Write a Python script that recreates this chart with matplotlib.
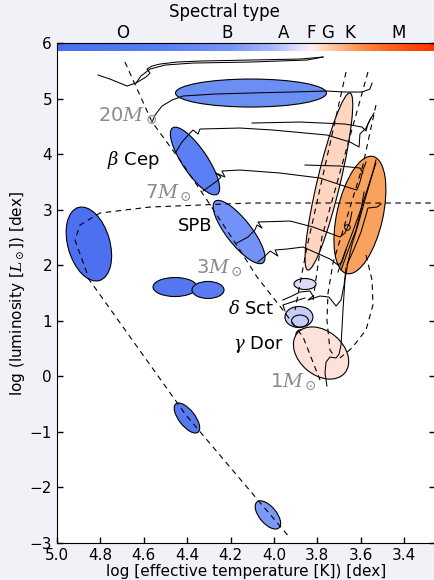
import numpy as np
import matplotlib
matplotlib.use('Agg')
import matplotlib.pyplot as plt
from matplotlib.patches import Ellipse
from matplotlib.transforms import ScaledTranslation
from matplotlib.colors import LinearSegmentedColormap, Normalize

plt.rcParams['font.family'] = ['DejaVu Sans']
plt.rcParams['mathtext.fontset'] = 'dejavuserif'

# ---------------- data (log Teff, log L) ----------------
# spectral classes
spec_bounds = [4.518, 4.0, 3.875, 3.778, 3.716, 3.568, 3.301]
spec_label_pos = [4.696, 4.217, 3.954, 3.829, 3.751, 3.650, 3.424]
spec_labels = ['O', 'B', 'A', 'F', 'G', 'K', 'M']

# zero-age main sequence (dashed)
zams_T = [4.687, 4.562, 4.433, 4.309, 4.157, 4.078, 3.959, 3.866, 3.788]
zams_L = [5.658, 4.578, 3.894, 3.174, 2.274, 1.788, 1.194, 0.708, -0.066]

# white-dwarf cooling sequence (dashed)
wd_T = [4.857, 4.406, 3.926]
wd_L = [1.77, -0.696, -2.91]

# horizontal branch / helium burning (dashed)
hb_T = [4.862, 4.917, 4.894, 4.802, 4.571, 4.111, 3.258]
hb_L = [1.86, 2.454, 2.724, 2.94, 3.048, 3.12, 3.12]

# red-clump / solar-like envelope (dashed arc)
arc_T = [3.576, 3.548, 3.544, 3.576, 3.641, 3.696]
arc_L = [2.184, 1.734, 1.284, 0.834, 0.51, 0.33]

# instability strip edges (dashed)
is1_T = [3.668, 3.848, 3.903]
is1_L = [5.478, 2.328, 1.194]
is2_T = [3.567, 3.779, 3.820]
is2_L = [5.478, 2.508, 1.374]
is3_T = [3.530, 3.590, 3.728, 3.751, 3.756, 3.742, 3.719]
is3_L = [4.884, 3.804, 2.040, 1.500, 1.014, 0.474, 0.348]

# evolutionary tracks (solid)
tracks = {
    'm40a': ([4.811, 4.756, 4.677, 4.636, 4.590, 4.571, 4.585, 4.562, 4.525, 4.447, 4.341, 4.111, 3.880, 3.774],
             [5.424, 5.352, 5.226, 5.280, 5.388, 5.460, 5.532, 5.586, 5.622, 5.658, 5.676, 5.694, 5.712, 5.748]),
    'm40b': ([4.636, 4.613, 4.571, 4.502, 4.373, 4.111, 3.848, 3.774],
             [5.280, 5.406, 5.532, 5.604, 5.640, 5.658, 5.694, 5.748]),
    'm20': ([4.562, 4.548, 4.516, 4.470, 4.419, 4.272, 4.111, 3.926, 3.756, 3.673, 3.594, 3.558, 3.548],
            [4.578, 4.704, 4.866, 4.974, 5.046, 5.082, 5.100, 5.118, 5.136, 5.118, 5.118, 5.172, 5.280]),
    'm12': ([4.452, 4.424, 4.387, 4.373, 4.350, 4.341, 4.157, 4.005, 3.756, 3.650, 3.608, 3.604, 3.576, 3.558, 3.539],
            [4.038, 4.218, 4.380, 4.434, 4.362, 4.452, 4.470, 4.434, 4.344, 4.218, 4.128, 4.362, 4.470, 4.614, 4.740]),
    'm12loop': ([4.101, 3.880, 3.673, 3.594, 3.576, 3.567, 3.553],
                [4.560, 4.578, 4.542, 4.488, 4.416, 4.542, 4.650]),
    'm9': ([4.327, 4.295, 4.263, 4.244, 4.267, 4.226, 4.240, 4.157, 3.972, 3.788, 3.664, 3.618, 3.604, 3.590, 3.576],
           [3.336, 3.426, 3.516, 3.588, 3.660, 3.588, 3.696, 3.714, 3.660, 3.570, 3.408, 3.354, 3.498, 3.714, 3.858]),
    'm9loop': ([3.857, 3.696, 3.604, 3.590],
               [3.804, 3.786, 3.750, 3.660]),
    'm5': ([4.171, 4.120, 4.088, 4.078, 4.055, 4.074, 3.926, 3.820, 3.696, 3.673, 3.650, 3.641],
           [2.400, 2.508, 2.634, 2.724, 2.670, 2.778, 2.796, 2.688, 2.508, 2.580, 2.778, 2.958]),
    'm3': ([4.074, 4.041, 4.018, 3.982, 3.995, 3.940, 3.866, 3.742, 3.705, 3.687, 3.668],
           [2.058, 2.166, 2.256, 2.166, 2.274, 2.292, 2.328, 2.112, 2.004, 2.058, 2.274]),
    'm2': ([3.959, 3.917, 3.880, 3.834, 3.820, 3.843, 3.788, 3.747, 3.714, 3.691, 3.677, 3.668],
           [1.374, 1.446, 1.518, 1.536, 1.446, 1.374, 1.446, 1.428, 1.266, 1.374, 1.644, 1.950]),
    'm15': ([3.949, 3.959, 3.903, 3.857],
            [1.176, 1.284, 1.356, 1.410]),
    'm1': ([3.756, 3.765, 3.760, 3.742, 3.714, 3.700, 3.691, 3.687, 3.682, 3.673, 3.659, 3.641, 3.613, 3.581, 3.548, 3.530],
           [-0.174, 0.06, 0.258, 0.348, 0.33, 0.402, 0.564, 0.834, 1.194, 1.734, 2.058, 2.364, 2.724, 3.174, 3.624, 3.894]),
    'rgb_a': ([3.705, 3.673, 3.641, 3.604, 3.571, 3.544, 3.530],
              [1.878, 2.238, 2.562, 2.958, 3.354, 3.678, 3.840]),
    'rgb_b': ([3.691, 3.654, 3.622, 3.599, 3.585],
              [1.914, 2.310, 2.634, 2.994, 3.318]),
    'rgb_c': ([3.664, 3.627, 3.599, 3.576, 3.567, 3.525, 3.507],
              [2.004, 2.328, 2.598, 2.904, 3.030, 3.048, 3.102]),
}
clump_T, clump_L = [3.664], [2.688]

# pulsator regions: centre log Teff, centre log L
reg_T = [4.106, 4.364, 4.161, 4.853, 4.456, 4.304, 4.401, 4.028, 3.747, 3.604, 3.857, 3.885, 3.880, 3.848, 3.783]
reg_L = [5.100, 3.876, 2.598, 2.382, 1.608, 1.555, -0.750, -2.495, 3.507, 2.904, 1.662, 1.068, 0.996, 0.708, 0.420]

# labels
mass_labels = ['20', '7', '3', '1']
mass_T = [4.539, 4.378, 4.143, 3.802]
mass_L = [4.596, 3.210, 1.860, -0.192]
class_labels = [r'$\beta$ Cep', 'SPB', r'$\delta$ Sct', r'$\gamma$ Dor']
class_T = [4.770, 4.364, 4.212, 4.189]
class_L = [3.894, 2.706, 1.212, 0.582]

# ---------------- styles ----------------
reg_w = [1.51, 0.80, 0.78, 0.76, 0.44, 0.32, 0.36, 0.34, 1.82, 1.20, 0.22, 0.28, 0.17, 0.23, 0.62]
reg_h = [0.28, 0.25, 0.25, 0.42, 0.19, 0.17, 0.16, 0.17, 0.23, 0.46, 0.11, 0.21, 0.12, 0.14, 0.44]
reg_ang = [0, -56, -52, -74, 0, 0, -52, -50, 76.6, 77.4, 0, 0, 0, -20, -40]
reg_col = ['#6b8ef2', '#5b7ff5', '#7292f7', '#4d70f0', '#5577ee', '#5a7cf0', '#5878f0', '#7c98f3',
           '#fdd5c0', '#f9a25e', '#dcdcfa', '#c8cdf5', '#c8cdf5', '#e4e4fa', '#fde2da']

cb_T = [3.258, 3.40, 3.55, 3.65, 3.75, 3.83, 3.88, 4.0, 4.2, 4.52, 5.0]
cb_col = ['#ff3000', '#ff5010', '#ff7a35', '#fda46a', '#fdd0b0', '#fff0f0', '#e4e4fb', '#a9b9fa',
          '#7896f8', '#5a7ef5', '#4a6ef0']

XMIN, XMAX = 5.0, 3.258

fig = plt.figure(figsize=(4.35, 5.8), dpi=100, facecolor='#f1f1f8')
ax = fig.add_axes([0.131, 0.0638, 0.869, 0.862])
ax.set_facecolor('white')

# spectral colour strip
cmap = LinearSegmentedColormap.from_list(
    'spec', [((t - XMAX) / (XMIN - XMAX), c) for t, c in zip(cb_T, cb_col)])
tgrid = np.linspace(XMIN, XMAX, 500)
ax.imshow(tgrid[None, :], extent=(XMIN, XMAX, 5.856, 6.0), aspect='auto', cmap=cmap,
          norm=Normalize(XMAX, XMIN), origin='lower', interpolation='bilinear', zorder=1)

# regions
for cx, cy, w, h, a, c in zip(reg_T, reg_L, reg_w, reg_h, reg_ang, reg_col):
    tr = fig.dpi_scale_trans + ScaledTranslation(cx, cy, ax.transData)
    ax.add_patch(Ellipse((0, 0), w, h, angle=a, transform=tr, fc=c, ec='black', lw=0.8, zorder=2))

dash = dict(color='black', lw=0.8, ls=(0, (5, 4)), zorder=3)
for xs, ys in [(zams_T, zams_L), (wd_T, wd_L), (hb_T, hb_L), (arc_T, arc_L),
               (is1_T, is1_L), (is2_T, is2_L), (is3_T, is3_L)]:
    ax.plot(xs, ys, **dash)

for name, (xs, ys) in tracks.items():
    ax.plot(xs, ys, color='black', lw=0.75, zorder=4)
ax.plot(clump_T, clump_L, 'o', ms=4, mfc='none', mec='black', mew=0.7, zorder=4)

for lab, x, y in zip(mass_labels, mass_T, mass_L):
    ax.text(x, y, lab + r'$M_\odot$', color='#8a8a8a', fontsize=14, ha='right', va='baseline', zorder=5)
for lab, x, y in zip(class_labels, class_T, class_L):
    ha = 'center' if lab == 'SPB' else 'left'
    ax.text(x, y, lab, color='black', fontsize=13, ha=ha, va='center', zorder=5)

ax.set_xlim(XMIN, XMAX)
ax.set_ylim(-3, 6)
ax.set_xticks([5.0, 4.8, 4.6, 4.4, 4.2, 4.0, 3.8, 3.6, 3.4])
ax.set_yticks(range(-3, 7))
ax.tick_params(direction='in', length=4.5, width=1, labelsize=11, top=False, right=True)
ax.set_xlabel('log [effective temperature [K]) [dex]', fontsize=11, labelpad=1)
ax.set_ylabel(r'log (luminosity [$L_\odot$]) [dex]', fontsize=11, labelpad=2)

sec = ax.secondary_xaxis('top')
sec.set_xticks(spec_bounds)
sec.set_xticklabels([''] * len(spec_bounds))
sec.set_xticks(spec_label_pos, labels=spec_labels, minor=True)
sec.tick_params(which='major', direction='in', length=2.5, width=1)
sec.tick_params(which='minor', length=0, pad=1, labelsize=12)
sec.spines['top'].set_visible(False)

fig.text(0.515, 0.979, 'Spectral type', ha='center', va='center', fontsize=12)

fig.savefig('out.png', dpi=100, facecolor=fig.get_facecolor())
